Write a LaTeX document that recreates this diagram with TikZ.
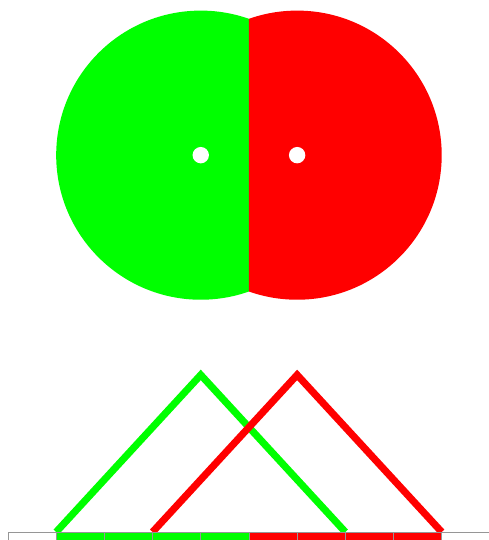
\documentclass[tikz,border=0pt]{standalone}
\usetikzlibrary{calc}
\definecolor{mygreen}{RGB}{0,255,0}
\definecolor{myred}{RGB}{255,0,0}
\definecolor{mygrid}{RGB}{150,150,150}
\tikzset{
  hole/.style={fill=white},
  tri/.style={line width=4.2pt,miter limit=10},
  cell/.style={draw=mygrid,line width=0.5pt},
}
\begin{document}
\begin{tikzpicture}
  \useasboundingbox (-0.166,-0.166) rectangle (9.98,11.04);
  \coordinate (cg) at (4,7.82);
  \coordinate (cr) at (6,7.82);
  % the two half discs
  \begin{scope}
    \clip (-1,0) rectangle (5,12);
    \fill[mygreen] (cg) circle (3);
  \end{scope}
  \begin{scope}
    \clip (5,0) rectangle (11,12);
    \fill[myred] (cr) circle (3);
  \end{scope}
  \fill[hole] (cg) circle (0.17);
  \fill[hole] (cr) circle (0.17);
  % triangles
  \draw[tri,mygreen] (1,0) -- (4,3.26) -- (7,0);
  \draw[tri,myred] (3,0) -- (6,3.26) -- (9,0);
  % strip
  \foreach \i in {0,...,9} {
    \ifnum\i<1 \def\c{white}\else\ifnum\i<5 \def\c{mygreen}\else\ifnum\i<9 \def\c{myred}\else\def\c{white}\fi\fi\fi
    \filldraw[cell,fill=\c] (\i,0) rectangle (\i+1,-1);
  }
\end{tikzpicture}
\end{document}
